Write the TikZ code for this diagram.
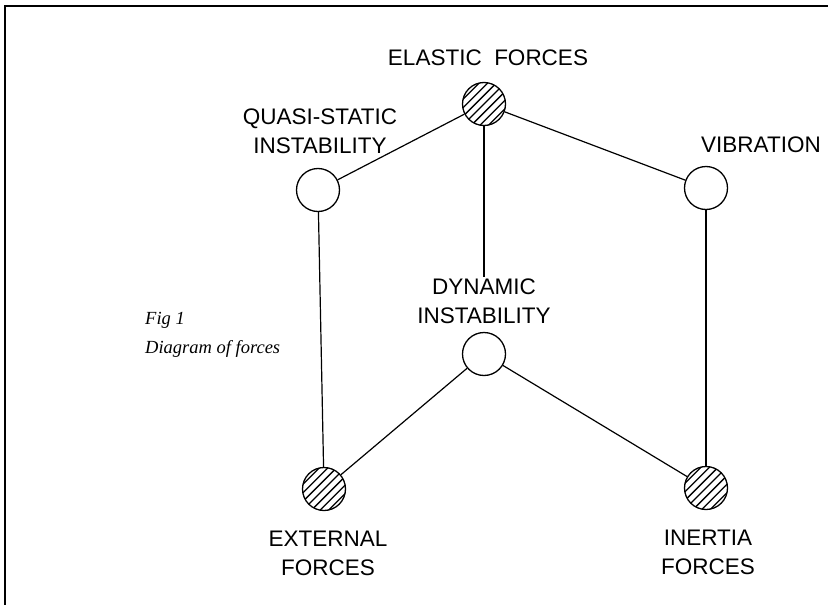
\documentclass[tikz,border=0pt]{standalone}
\usepackage{fontspec}
\setmainfont{Liberation Serif}
\setsansfont{Liberation Sans}
\usetikzlibrary{calc}
\tikzset{
  lbl/.style={font=\sffamily\fontsize{22.5}{29}\selectfont, align=center, inner sep=1pt},
  captext/.style={font=\rmfamily\itshape\fontsize{18.5}{29}\selectfont, align=left, anchor=north west, inner sep=0pt},
  joint/.style={circle, draw, line width=1.3pt, minimum size=43pt, inner sep=0pt, fill=white},
  hatched/.style={joint, path picture={
     \foreach \i [evaluate=\i as \k using 4.3*\i, evaluate=\i as \m using -4.3*\i] in {-7,...,7}{
       \draw[line width=1.3pt] ($(path picture bounding box.center)+(\k pt,\m pt)+(-30pt,-30pt)$) -- ++(60pt,60pt);
     }}},
  conn/.style={line width=1.2pt}
}
\begin{document}
\begin{tikzpicture}[x=1pt,y=-1pt]
\useasboundingbox (0,0) rectangle (828,605);
\draw[line width=1.4pt] (828,6) -- (5,6) -- (5,605);
% labels
\node[lbl] (tel) at (488,58) {ELASTIC\ \ FORCES};
\node[lbl] (tqs) at (320,131) {QUASI-STATIC\\INSTABILITY};
\node[lbl] (tvb) at (761,145) {VIBRATION};
\node[lbl] (tdy) at (484,301) {DYNAMIC\\INSTABILITY};
\node[lbl] (tex) at (328,553) {EXTERNAL\\FORCES};
\node[lbl] (tin) at (708,552) {INERTIA\\FORCES};
\node[captext] (cp) at (145,312) {Fig 1\\Diagram of forces};
% joints
\node[hatched] (el) at (484,104) {};
\node[joint] (qs) at (318,190) {};
\node[joint] (vb) at (706,188) {};
\node[joint] (dy) at (484,354) {};
\node[hatched] (ex) at (324,489) {};
\node[hatched] (in) at (706,488) {};
% connectors
\draw[conn] (el) -- (qs);
\draw[conn] (el) -- (vb);
\draw[conn] (el) -- (tdy);
\draw[conn] (qs) -- (ex);
\draw[conn] (vb) -- (in);
\draw[conn] (dy) -- (ex);
\draw[conn] (dy) -- (in);
\end{tikzpicture}
\end{document}
